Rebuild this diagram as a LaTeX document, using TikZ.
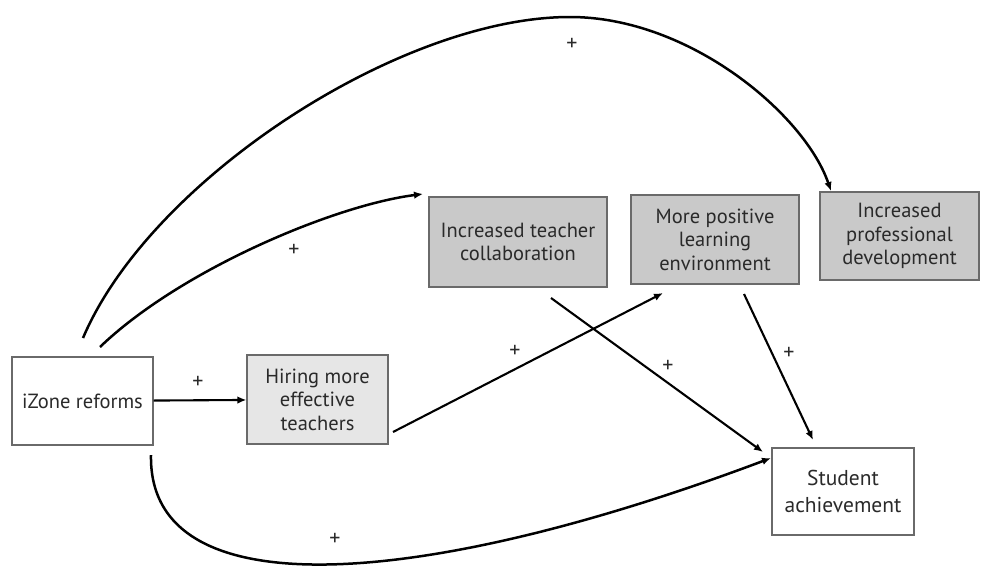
\documentclass[tikz,border=0pt]{standalone}
\usepackage{fontspec}
\setmainfont{PT Sans}
\usetikzlibrary{arrows.meta,calc}
\definecolor{boxline}{HTML}{6A6A6A}
\definecolor{darkfill}{HTML}{C9C9C9}
\definecolor{lightfill}{HTML}{E6E6E6}
\definecolor{txt}{HTML}{2A2A2A}
\begin{document}
\begin{tikzpicture}[x=1pt,y=-1pt,
  box/.style={draw=boxline, line width=1.2pt, align=center, text=txt,
    font=\fontsize{20.5}{23.5}\selectfont, inner sep=0pt},
  link/.style={line width=2.1pt, -{Latex[length=9pt,width=7.5pt]}},
  curvelink/.style={line width=2.5pt, -{Latex[length=9pt,width=7.5pt]}},
  sign/.style={text=txt, font=\fontsize{22}{22}\selectfont, inner sep=0pt}]
\useasboundingbox (0,0) rectangle (981,570);

% boxes
\node[box, minimum width=141pt, minimum height=88pt] (izone) at (82.5,401) {iZone reforms};
\node[box, fill=lightfill, minimum width=141pt, minimum height=89pt] (hiring) at (317.5,399.5) {Hiring more\\effective\\teachers};
\node[box, fill=darkfill, minimum width=178pt, minimum height=90pt] (collab) at (518,242) {Increased teacher\\collaboration};
\node[box, fill=darkfill, minimum width=168pt, minimum height=89pt] (env) at (715,239.5) {More positive\\learning\\environment};
\node[box, fill=darkfill, minimum width=159pt, minimum height=88pt] (prof) at (899.5,236) {Increased\\professional\\development};
\node[box, font=\fontsize{21.5}{26.5}\selectfont, minimum width=142pt, minimum height=87pt] (student) at (843,491.5) {Student\\achievement};

% free ends of the connectors
\coordinate (topstart) at (83,338);
\coordinate (topend) at (831,191);
\coordinate (midstart) at (100,347);
\coordinate (midend) at (423,194);
\coordinate (lowstart) at (151,455);
\coordinate (lowend) at (771,458);
\coordinate (hirestart) at (393,432);
\coordinate (hireend) at (663,293);
\coordinate (colstart) at (551,298);
\coordinate (colend) at (763,452);
\coordinate (envstart) at (744,294);
\coordinate (envend) at (813,440);

% connectors
\draw[link] (izone) -- (hiring);
\draw[curvelink] (topstart) .. controls (150,180) and (400,17) .. (570,17)
  .. controls (690,17) and (805,115) .. (topend);
\draw[curvelink] (midstart) .. controls (180,270) and (335,205) .. (midend);
\draw[curvelink] (lowstart) .. controls (148,610) and (420,590) .. (lowend);
\draw[link] (hirestart) -- (hireend);
\draw[link] (colstart) -- (colend);
\draw[link] (envstart) -- (envend);

% signs
\node[sign] (s1) at (198,382) {+};
\node[sign] (s2) at (572,44) {+};
\node[sign] (s3) at (294,250) {+};
\node[sign] (s4) at (515,351) {+};
\node[sign] (s5) at (668,366) {+};
\node[sign] (s6) at (789,353) {+};
\node[sign] (s7) at (335,539) {+};
\end{tikzpicture}
\end{document}
